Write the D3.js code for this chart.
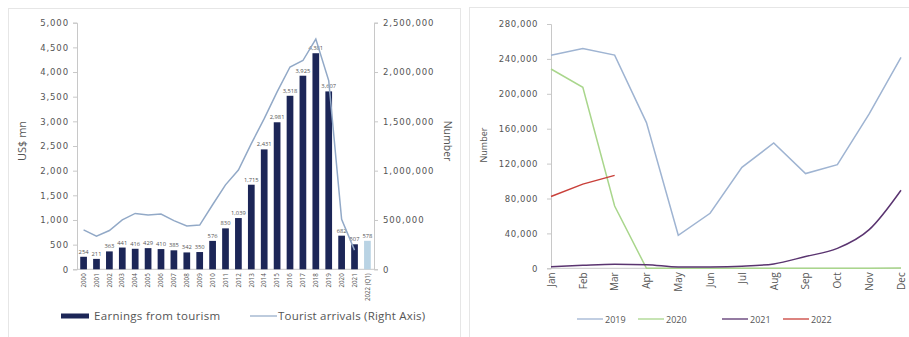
<!DOCTYPE html>
<html><head><meta charset="utf-8">
<script src="https://cdn.jsdelivr.net/npm/d3@7/dist/d3.min.js"></script>
<style>
body{margin:0;background:#fff;}
svg{display:block;font-family:"Open Sans","Liberation Sans",sans-serif;}
</style></head>
<body>
<svg id="c" width="909" height="337"></svg>
<script>
// ---- Left chart data ----
const years = ["2000","2001","2002","2003","2004","2005","2006","2007","2008","2009","2010","2011","2012","2013","2014","2015","2016","2017","2018","2019","2020","2021","2022 (Q1)"];
const earnings = [254,211,363,441,416,429,410,385,342,350,576,830,1039,1715,2431,2981,3518,3925,4381,3607,682,507,578];
const arrivals = [400414,336794,393171,500642,566202,549308,559603,494008,438475,447890,654476,855975,1005605,1274593,1527153,1798380,2050832,2116407,2333796,1913702,507704,194495];
const leftTicks = [0,500,1000,1500,2000,2500,3000,3500,4000,4500,5000];
const rightTicks = [0,500000,1000000,1500000,2000000,2500000];

// ---- Right chart data ----
const months = ["Jan","Feb","Mar","Apr","May","Jun","Jul","Aug","Sep","Oct","Nov","Dec"];
const m2019 = [244239,252033,244328,166975,37802,63072,115701,143587,108575,118743,176984,241663];
const m2020 = [228434,207507,71370,0,0,0,0,0,0,0,0,393];
const m2021 = [1682,3366,4581,4168,1497,1614,2429,5040,13547,22771,44294,89506];
const m2022 = [82327,96507,106500];
const monthTicks = [0,40000,80000,120000,160000,200000,240000,280000];

const svg = d3.select("#c");
const fmt = d3.format(",");
const txt = "#555";
const axisCol = "#c8c8c8";
const tickFont = "'DejaVu Sans',sans-serif";

// panel frames
svg.append("rect").attr("x",8.5).attr("y",8.5).attr("width",452).attr("height",335).attr("fill","none").attr("stroke","#e6e6e6");
svg.append("rect").attr("x",469.5).attr("y",7.5).attr("width",445).attr("height",335).attr("fill","none").attr("stroke","#e6e6e6");

// ================= LEFT =================
const L = {x0:77, x1:374, y0:269.3, y1:22.7};
const xb = d3.scaleBand().domain(years).range([L.x0, L.x1]).paddingInner(0.48).paddingOuter(0.25);
const yl = d3.scaleLinear().domain([0,5000]).range([L.y0, L.y1]);
const yr = d3.scaleLinear().domain([0,2500000]).range([L.y0, L.y1]);

const gL = svg.append("g");
const axL = gL.append("g").attr("transform",`translate(${L.x0},0)`)
  .call(d3.axisLeft(yl).tickValues(leftTicks).tickFormat(fmt).tickSize(4).tickPadding(4));
const axR = gL.append("g").attr("transform",`translate(${L.x1},0)`)
  .call(d3.axisRight(yr).tickValues(rightTicks).tickFormat(fmt).tickSize(4).tickPadding(5));
[axL,axR].forEach(a=>{
  a.select(".domain").attr("stroke",axisCol);
  a.selectAll(".tick line").attr("stroke",axisCol);
  a.selectAll("text").attr("fill",txt).style("font-size","8.5px").style("font-family",tickFont).style("letter-spacing","0.9px");
});
gL.append("line").attr("x1",L.x0).attr("x2",L.x1).attr("y1",L.y0).attr("y2",L.y0).attr("stroke",axisCol);

// x labels
gL.selectAll(".xl").data(years).join("text")
  .attr("transform",d=>`translate(${xb(d)+xb.bandwidth()/2+2.2},${L.y0+4}) rotate(-90)`)
  .attr("text-anchor","end").attr("fill",txt).style("font-size","6.2px").text(d=>d);

// bars
gL.selectAll(".bar").data(earnings).join("rect")
  .attr("x",(d,i)=>xb(years[i])).attr("width",xb.bandwidth())
  .attr("y",d=>yl(d)).attr("height",d=>L.y0-yl(d))
  .attr("fill",(d,i)=>i===years.length-1?"#b9d3e4":"#1c2657");

// bar labels
gL.selectAll(".bl").data(earnings).join("text")
  .attr("x",(d,i)=>xb(years[i])+xb.bandwidth()/2)
  .attr("y",d=>yl(d)-3)
  .attr("text-anchor","middle").attr("fill","#555").style("font-size","5.8px")
  .text(d=>fmt(d));

// arrivals line
const lineL = d3.line().x((d,i)=>xb(years[i])+xb.bandwidth()/2).y(d=>yr(d));
gL.append("path").datum(arrivals).attr("d",lineL).attr("fill","none").attr("stroke","#92a9c7").attr("stroke-width",1.5);

// axis titles
gL.append("text").attr("transform","translate(26,141) rotate(-90)").attr("text-anchor","middle")
  .attr("fill",txt).style("font-size","11px").text("US$ mn");
gL.append("text").attr("transform","translate(444,141) rotate(90)").attr("text-anchor","middle")
  .attr("fill",txt).style("font-size","10.5px").text("Number");

// legend
gL.append("rect").attr("x",61).attr("y",313.5).attr("width",28).attr("height",5).attr("fill","#1c2657");
gL.append("text").attr("x",94).attr("y",320).attr("fill",txt).style("font-size","11.5px").style("letter-spacing","0.3px").text("Earnings from tourism");
gL.append("line").attr("x1",250).attr("x2",277).attr("y1",316).attr("y2",316).attr("stroke","#92a9c7").attr("stroke-width",1.2);
gL.append("text").attr("x",278).attr("y",320).attr("fill",txt).style("font-size","11.5px").style("letter-spacing","0.2px").text("Tourist arrivals (Right Axis)");

// ================= RIGHT =================
const R = {x0:551, x1:901, y0:268.3, y1:24};
const xm = d3.scalePoint().domain(months).range([R.x0, R.x1]);
const ym = d3.scaleLinear().domain([0,280000]).range([R.y0, R.y1]);
const gR = svg.append("g");
const axM = gR.append("g").attr("transform",`translate(${R.x0},0)`)
  .call(d3.axisLeft(ym).tickValues(monthTicks).tickFormat(fmt).tickSize(4).tickPadding(9));
axM.select(".domain").attr("stroke",axisCol);
axM.selectAll(".tick line").attr("stroke",axisCol);
axM.selectAll("text").attr("fill",txt).style("font-size","8.5px").style("font-family",tickFont).style("letter-spacing","0.6px");
gR.append("line").attr("x1",R.x0).attr("x2",R.x1).attr("y1",R.y0).attr("y2",R.y0).attr("stroke",axisCol);

gR.selectAll(".ml").data(months).join("text")
  .attr("transform",d=>`translate(${xm(d)+3.8},${R.y0+4}) rotate(-90)`)
  .attr("text-anchor","end").attr("fill",txt).style("font-size","10px").text(d=>d);

gR.append("text").attr("transform","translate(487,145) rotate(-90)").attr("text-anchor","middle")
  .attr("fill",txt).style("font-size","9px").text("Number");

const series = [
  {name:"2019", values:m2019, color:"#9fb4d2", curve:d3.curveLinear},
  {name:"2020", values:m2020, color:"#a9d68c", curve:d3.curveLinear},
  {name:"2021", values:m2021, color:"#5a3470", curve:d3.curveMonotoneX},
  {name:"2022", values:m2022, color:"#c9403a", curve:d3.curveLinear}
];
series.forEach(s=>{
  const ln = d3.line().x((d,i)=>xm(months[i])).y(d=>ym(d)).curve(s.curve);
  gR.append("path").datum(s.values).attr("d",ln).attr("fill","none").attr("stroke",s.color).attr("stroke-width",1.5);
});

// legend
const legX = [577, 638, 722, 783];
series.forEach((s,i)=>{
  gR.append("line").attr("x1",legX[i]).attr("x2",legX[i]+26).attr("y1",319).attr("y2",319).attr("stroke",s.color).attr("stroke-width",1.3);
  gR.append("text").attr("x",legX[i]+28).attr("y",322.5).attr("fill",txt).style("font-size","9px").text(s.name);
});
</script>
</body></html>
